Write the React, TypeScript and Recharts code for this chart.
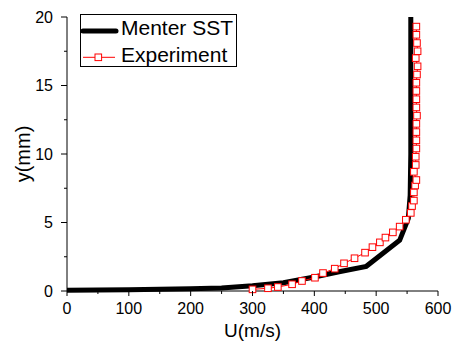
import React from 'react';
import { LineChart, Line, XAxis, YAxis } from 'recharts';

const sstU = [0, 100, 200, 250, 300, 350, 400, 440, 484, 538, 552, 555, 556, 556];
const sstY = [0.05, 0.1, 0.16, 0.22, 0.38, 0.6, 1.02, 1.4, 1.8, 3.7, 5.3, 7, 10, 20];

const expU = [300, 325, 341, 364, 380, 401, 414, 433, 448, 465, 482, 494, 506, 515, 527, 538, 548, 556, 558, 561, 561, 563, 565, 561, 564, 564, 565, 565, 565, 565, 566, 565, 565, 565, 565, 566, 567, 564, 567, 566, 565, 565];
const expY = [0.12, 0.2, 0.29, 0.49, 0.73, 0.97, 1.31, 1.63, 2.02, 2.39, 2.8, 3.2, 3.55, 3.9, 4.28, 4.7, 5.2, 5.7, 6.2, 6.6, 7.2, 7.7, 8.1, 8.7, 9.2, 9.8, 10.4, 11.0, 11.6, 12.2, 12.8, 13.4, 14.0, 14.6, 15.2, 15.8, 16.4, 17.0, 17.5, 18.1, 18.7, 19.3];

const xTicks = [0, 50, 100, 150, 200, 250, 300, 350, 400, 450, 500, 550, 600];
const yTicks = [0, 2.5, 5, 7.5, 10, 12.5, 15, 17.5, 20];

const sstData = sstU.map((u, i) => ({ u, y: sstY[i] }));
const expData = expU.map((u, i) => ({ u, y: expY[i] }));

const FONT = '"Liberation Sans", Arial, sans-serif';

const XTick = (props: any) => {
  const { x, y, payload } = props;
  const v = payload.value;
  const major = v % 100 === 0;
  const axisY = y - 7;
  return (
    <g>
      <line x1={x} x2={x} y1={axisY} y2={axisY + (major ? 5 : 3)} stroke="#000" strokeWidth={1} />
      {major && (
        <text x={x} y={axisY + 23.3} textAnchor="middle" fontSize={16} fontFamily={FONT} fill="#000">
          {v}
        </text>
      )}
    </g>
  );
};

const YTick = (props: any) => {
  const { x, y, payload } = props;
  const v = payload.value;
  const major = v % 5 === 0;
  const axisX = x + 7;
  return (
    <g>
      <line x1={axisX - (major ? 6 : 3)} x2={axisX} y1={y} y2={y} stroke="#000" strokeWidth={1} />
      {major && (
        <text x={axisX - 14} y={y + 5.7} textAnchor="end" fontSize={16} fontFamily={FONT} fill="#000">
          {v}
        </text>
      )}
    </g>
  );
};

const SquareDot = (props: any) => {
  const { cx, cy } = props;
  if (cx == null || cy == null) return null;
  return <rect x={cx - 3.3} y={cy - 3.3} width={6.6} height={6.6} fill="#fff" stroke="#ff0000" strokeWidth={1} />;
};

const LegendBox = () => (
  <svg width={158} height={54} style={{ display: 'block' }}>
    <rect x={0.5} y={0.5} width={156} height={52} fill="#fff" stroke="#000" strokeWidth={1} />
    <line x1={3} x2={36} y1={17} y2={17} stroke="#000" strokeWidth={5} strokeLinecap="round" />
    <text x={41} y={21} fontSize={21} fontFamily={FONT} fill="#000">Menter SST</text>
    <line x1={3} x2={35} y1={43.3} y2={43.3} stroke="#ff0000" strokeWidth={1} />
    <rect x={15} y={40} width={6.6} height={6.6} fill="#fff" stroke="#ff0000" strokeWidth={1} />
    <text x={41} y={48.3} fontSize={21} fontFamily={FONT} fill="#000">Experiment</text>
  </svg>
);

const XLabel = (props: any) => {
  const { viewBox } = props;
  const cx = viewBox.x + viewBox.width / 2;
  return (
    <text x={cx} y={viewBox.y + 45.7} textAnchor="middle" fontSize={19} fontFamily={FONT} fill="#000">
      U(m/s)
    </text>
  );
};

const YLabel = (props: any) => {
  const { viewBox } = props;
  const cy = viewBox.y + viewBox.height / 2;
  const x = 29.5;
  return (
    <text
      x={x}
      y={cy}
      transform={`rotate(-90 ${x} ${cy})`}
      textAnchor="middle"
      fontSize={20}
      fontFamily={FONT}
      fill="#000"
    >
      y(mm)
    </text>
  );
};

export default function App() {
  return (
    <div style={{ position: 'relative', width: 455, height: 342 }}>
      <style>{'body{margin:0;}'}</style>
      <LineChart
        width={455}
        height={342}
        margin={{ top: 17, right: 17, bottom: 21, left: 27 }}
      >
        <XAxis
          dataKey="u"
          type="number"
          domain={[0, 600]}
          ticks={xTicks}
          interval={0}
          tick={<XTick />}
          tickLine={false}
          tickSize={5}
          tickMargin={2}
          height={30}
          axisLine={{ stroke: '#000', strokeWidth: 1 }}
          allowDuplicatedCategory={false}
          label={<XLabel />}
        />
        <YAxis
          dataKey="y"
          type="number"
          domain={[0, 20]}
          ticks={yTicks}
          interval={0}
          tick={<YTick />}
          tickLine={false}
          tickSize={5}
          tickMargin={2}
          width={40}
          axisLine={{ stroke: '#000', strokeWidth: 1 }}
          label={<YLabel />}
        />
        <Line
          data={sstData}
          dataKey="y"
          name="Menter SST"
          stroke="#000"
          strokeWidth={5}
          dot={false}
          activeDot={false}
          type="linear"
          isAnimationActive={false}
        />
        <Line
          data={expData}
          dataKey="y"
          name="Experiment"
          stroke="#ff0000"
          strokeWidth={1}
          dot={<SquareDot />}
          activeDot={false}
          type="linear"
          isAnimationActive={false}
        />
      </LineChart>
      <div style={{ position: 'absolute', left: 80, top: 14 }}>
        <LegendBox />
      </div>
    </div>
  );
}
